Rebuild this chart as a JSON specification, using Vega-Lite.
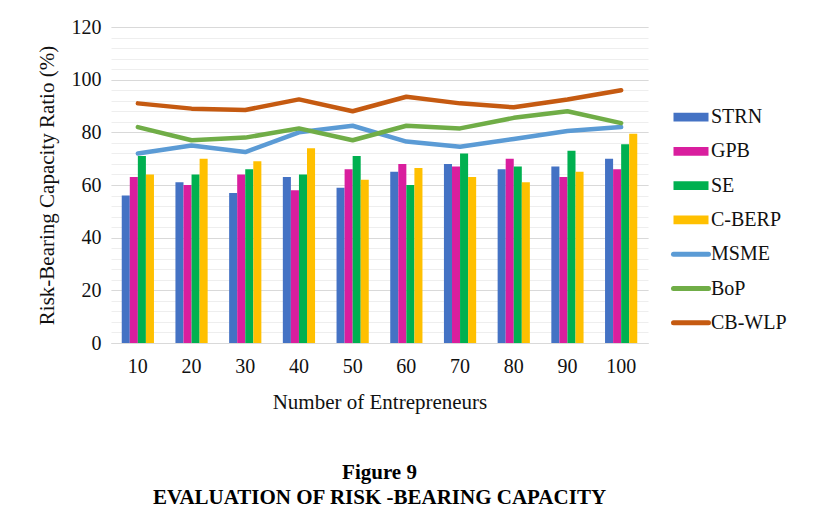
{
  "$schema": "https://vega.github.io/schema/vega-lite/v6.json",
  "width": 537,
  "height": 316,
  "padding": {"left": 36, "top": 17, "right": 5, "bottom": 5},
  "background": "white",
  "config": {
    "font": "Liberation Serif",
    "view": {"stroke": null},
    "axis": {"labelColor": "#111111", "titleColor": "#111111", "titleFontWeight": "normal", "labelFont": "Liberation Serif", "titleFont": "Liberation Serif"},
    "legend": {"labelFont": "Liberation Serif", "titleFont": "Liberation Serif"}
  },
  "datasets": {
    "bars": [
      {"n": 10, "series": "STRN", "value": 56}, {"n": 10, "series": "GPB", "value": 63}, {"n": 10, "series": "SE", "value": 71}, {"n": 10, "series": "C-BERP", "value": 64},
      {"n": 20, "series": "STRN", "value": 61}, {"n": 20, "series": "GPB", "value": 60}, {"n": 20, "series": "SE", "value": 64}, {"n": 20, "series": "C-BERP", "value": 70},
      {"n": 30, "series": "STRN", "value": 57}, {"n": 30, "series": "GPB", "value": 64}, {"n": 30, "series": "SE", "value": 66}, {"n": 30, "series": "C-BERP", "value": 69},
      {"n": 40, "series": "STRN", "value": 63}, {"n": 40, "series": "GPB", "value": 58}, {"n": 40, "series": "SE", "value": 64}, {"n": 40, "series": "C-BERP", "value": 74},
      {"n": 50, "series": "STRN", "value": 59}, {"n": 50, "series": "GPB", "value": 66}, {"n": 50, "series": "SE", "value": 71}, {"n": 50, "series": "C-BERP", "value": 62},
      {"n": 60, "series": "STRN", "value": 65}, {"n": 60, "series": "GPB", "value": 68}, {"n": 60, "series": "SE", "value": 60}, {"n": 60, "series": "C-BERP", "value": 66.5},
      {"n": 70, "series": "STRN", "value": 68}, {"n": 70, "series": "GPB", "value": 67}, {"n": 70, "series": "SE", "value": 72}, {"n": 70, "series": "C-BERP", "value": 63},
      {"n": 80, "series": "STRN", "value": 66}, {"n": 80, "series": "GPB", "value": 70}, {"n": 80, "series": "SE", "value": 67}, {"n": 80, "series": "C-BERP", "value": 61},
      {"n": 90, "series": "STRN", "value": 67}, {"n": 90, "series": "GPB", "value": 63}, {"n": 90, "series": "SE", "value": 73}, {"n": 90, "series": "C-BERP", "value": 65},
      {"n": 100, "series": "STRN", "value": 70}, {"n": 100, "series": "GPB", "value": 66}, {"n": 100, "series": "SE", "value": 75.5}, {"n": 100, "series": "C-BERP", "value": 79.5}
    ],
    "lines": [
      {"n": 10, "series": "MSME", "value": 72}, {"n": 10, "series": "BoP", "value": 82}, {"n": 10, "series": "CB-WLP", "value": 91},
      {"n": 20, "series": "MSME", "value": 75}, {"n": 20, "series": "BoP", "value": 77}, {"n": 20, "series": "CB-WLP", "value": 89},
      {"n": 30, "series": "MSME", "value": 72.5}, {"n": 30, "series": "BoP", "value": 78}, {"n": 30, "series": "CB-WLP", "value": 88.5},
      {"n": 40, "series": "MSME", "value": 80}, {"n": 40, "series": "BoP", "value": 81.5}, {"n": 40, "series": "CB-WLP", "value": 92.5},
      {"n": 50, "series": "MSME", "value": 82.5}, {"n": 50, "series": "BoP", "value": 77}, {"n": 50, "series": "CB-WLP", "value": 88},
      {"n": 60, "series": "MSME", "value": 76.5}, {"n": 60, "series": "BoP", "value": 82.5}, {"n": 60, "series": "CB-WLP", "value": 93.5},
      {"n": 70, "series": "MSME", "value": 74.5}, {"n": 70, "series": "BoP", "value": 81.5}, {"n": 70, "series": "CB-WLP", "value": 91},
      {"n": 80, "series": "MSME", "value": 77.5}, {"n": 80, "series": "BoP", "value": 85.5}, {"n": 80, "series": "CB-WLP", "value": 89.5},
      {"n": 90, "series": "MSME", "value": 80.5}, {"n": 90, "series": "BoP", "value": 88}, {"n": 90, "series": "CB-WLP", "value": 92.5},
      {"n": 100, "series": "MSME", "value": 82}, {"n": 100, "series": "BoP", "value": 83.5}, {"n": 100, "series": "CB-WLP", "value": 96}
    ]
  },
  "title": {
    "text": ["Figure 9", "EVALUATION OF RISK -BEARING CAPACITY"],
    "orient": "bottom",
    "anchor": "middle",
    "frame": "group",
    "font": "Liberation Serif",
    "fontSize": 21,
    "fontWeight": "bold",
    "color": "#000000",
    "lineHeight": 25,
    "offset": 50
  },
  "layer": [
    {
      "data": {"name": "bars"},
      "mark": {"type": "bar"},
      "encoding": {
        "x": {
          "field": "n", "type": "ordinal",
          "scale": {"paddingInner": 0.4, "paddingOuter": 0.2},
          "title": "Number of Entrepreneurs",
          "axis": {"labelAngle": 0, "labelFont": "Liberation Serif", "titleFont": "Liberation Serif", "labelFontSize": 20, "labelPadding": 13, "ticks": false, "domainColor": "#d9d9d9", "grid": false, "titleFontSize": 21, "titlePadding": 15}
        },
        "xOffset": {"field": "series", "type": "nominal", "sort": ["STRN", "GPB", "SE", "C-BERP"], "scale": {"paddingInner": 0, "paddingOuter": 0}},
        "y": {
          "field": "value", "type": "quantitative",
          "scale": {"domain": [0, 120]},
          "axis": {"orient": "left", "values": [0,4,8,12,16,20,24,28,32,36,40,44,48,52,56,60,64,68,72,76,80,84,88,92,96,100,104,108,112,116,120], "grid": true, "gridColor": "#eeeeee", "labels": false, "ticks": false, "domain": false, "title": null}
        },
        "color": {
          "field": "series", "type": "nominal",
          "scale": {"domain": ["STRN", "GPB", "SE", "C-BERP", "MSME", "BoP", "CB-WLP"], "range": ["#4472C4", "#D91E9E", "#00B050", "#FFC000", "#5B9BD5", "#70AD47", "#C55A11"]},
          "legend": {
            "orient": "none", "legendX": 570, "legendY": 80,
            "title": null, "padding": 0,
            "symbolSize": 1225, "symbolType": "M-1,-0.25H1V0.25H-1Z",
            "labelFontSize": 20, "labelFont": "Liberation Serif", "labelColor": "#111111",
            "rowPadding": 14.3, "labelOffset": 10,
            "encode": {
              "symbols": {
                "update": {
                  "shape": {"signal": "indexof(['MSME','BoP','CB-WLP'], datum.value) >= 0 ? 'stroke' : 'M-1,-0.25H1V0.25H-1Z'"},
                  "fill": {"scale": "color", "field": "value"},
                  "stroke": {"scale": "color", "field": "value"},
                  "strokeWidth": {"signal": "indexof(['MSME','BoP','CB-WLP'], datum.value) >= 0 ? 5 : 0"},
                  "strokeCap": {"value": "round"},
                  "opacity": {"value": 1}
                }
              }
            }
          }
        }
      }
    },
    {
      "data": {"name": "lines"},
      "mark": {"type": "line", "strokeWidth": 4.5, "strokeCap": "round", "strokeJoin": "round"},
      "encoding": {
        "x": {"field": "n", "type": "ordinal"},
        "y": {
          "field": "value", "type": "quantitative",
          "axis": {"orient": "left", "values": [0, 20, 40, 60, 80, 100, 120], "grid": true, "gridColor": "#d9d9d9", "domain": false, "ticks": false, "labelFont": "Liberation Serif", "titleFont": "Liberation Serif", "labelFontSize": 20, "labelPadding": 10, "title": "Risk-Bearing Capacity Ratio (%)", "titleFontSize": 21, "titlePadding": 14}
        },
        "color": {"field": "series", "type": "nominal"}
      }
    }
  ],
  "resolve": {"axis": {"y": "independent"}}
}
